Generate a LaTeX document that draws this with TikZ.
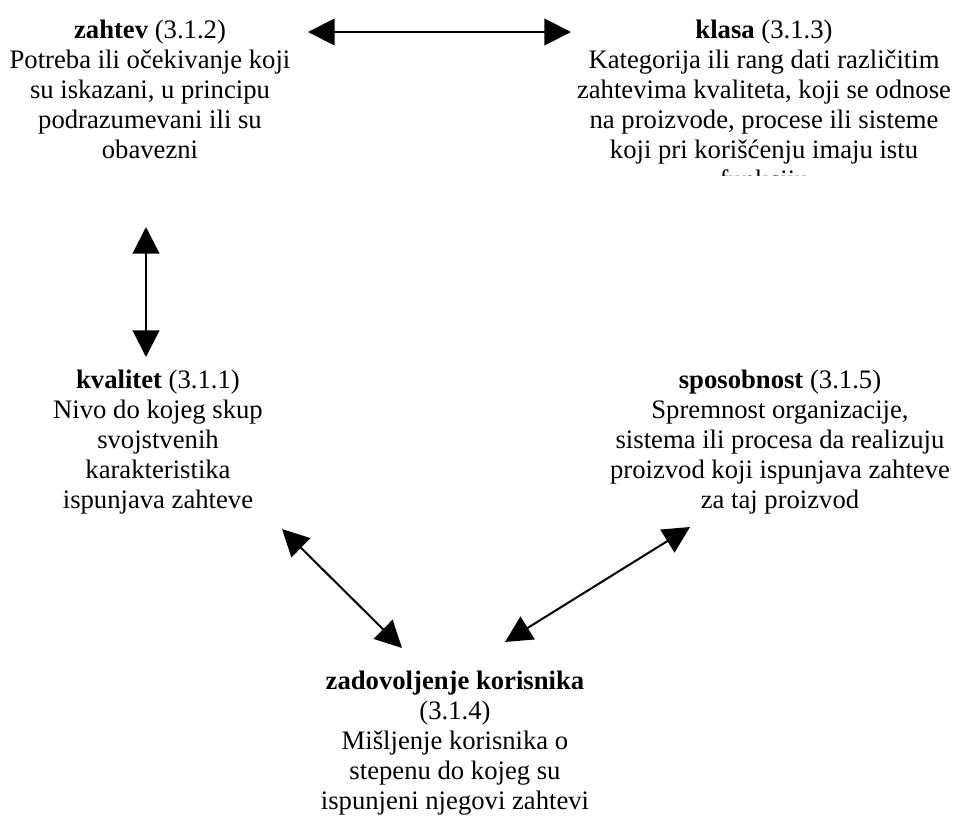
\documentclass[tikz,border=0pt]{standalone}
\usepackage{fontspec}
\setmainfont{Liberation Serif}
\usetikzlibrary{arrows.meta}
\begin{document}
\begin{tikzpicture}[x=0.75pt,y=-0.75pt,
  txt/.style={align=center, inner sep=0pt, anchor=north, font=\fontsize{20}{22.5}\selectfont},
  conn/.style={{Triangle[length=20pt,width=20pt]}-{Triangle[length=20pt,width=20pt]}, line width=1.5pt}]
\useasboundingbox[fill=white] (0,0) rectangle (957,821);
% top row
\node[txt] (zahtev) at (150,20) {\textbf{zahtev} (3.1.2)\\Potreba ili očekivanje koji\\su iskazani, u principu\\podrazumevani ili su\\obavezni};
\begin{scope}
\clip (560,0) rectangle (957,175);
\node[txt] (klasa) at (764,20) {\textbf{klasa} (3.1.3)\\Kategorija ili rang dati različitim\\zahtevima kvaliteta, koji se odnose\\na proizvode, procese ili sisteme\\koji pri korišćenju imaju istu\\funkciju};
\end{scope}
% middle row
\node[txt] (kvalitet) at (158,370) {\textbf{kvalitet} (3.1.1)\\Nivo do kojeg skup\\svojstvenih\\karakteristika\\ispunjava zahteve};
\node[txt] (sposobnost) at (780,370) {\textbf{sposobnost} (3.1.5)\\Spremnost organizacije,\\sistema ili procesa da realizuju\\proizvod koji ispunjava zahteve\\za taj proizvod};
% bottom
\node[txt] (zadovoljenje) at (455,671) {\textbf{zadovoljenje korisnika}\\(3.1.4)\\Mišljenje korisnika o\\stepenu do kojeg su\\ispunjeni njegovi zahtevi};
% connector ends
\coordinate (h1) at (308,32);
\coordinate (h2) at (571,32);
\coordinate (v1) at (146,227);
\coordinate (v2) at (146,357);
\coordinate (l1) at (282,529);
\coordinate (l2) at (402,648);
\coordinate (r1) at (690,527);
\coordinate (r2) at (505,642);
\draw[conn] (h1) -- (h2);
\draw[conn] (v1) -- (v2);
\draw[conn] (l1) -- (l2);
\draw[conn] (r1) -- (r2);
\end{tikzpicture}
\end{document}
